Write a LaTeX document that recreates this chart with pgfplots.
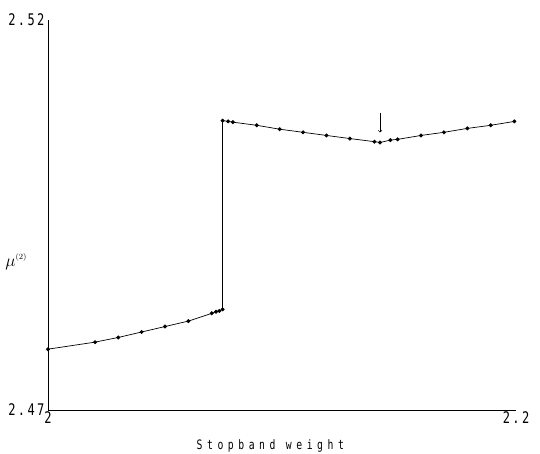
\documentclass[border=0pt]{standalone}
\usepackage{fontspec}
\usepackage{pgfplots}
\pgfplotsset{compat=1.18}
\newfontfamily\plotfont[FakeStretch=0.75,LetterSpace=15]{DejaVu Sans Mono}
\newfontfamily\labfont[FakeStretch=0.75,LetterSpace=35]{DejaVu Sans Mono}
\begin{document}
\begin{tikzpicture}[x=1pt,y=1pt]
\useasboundingbox (0,0) rectangle (540,453);
\begin{axis}[
  at={(48pt,43pt)}, anchor=south west,
  scale only axis, width=468pt, height=390pt,
  xmin=2, xmax=2.2, ymin=2.47, ymax=2.52,
  axis x line=bottom, axis y line=left,
  axis line style={-, line width=0.6pt},
  xtick={2,2.2}, xticklabels={2,2.2},
  ytick={2.47,2.52}, yticklabels={2.47,2.52},
  major tick length=0pt,
  tick label style={font=\plotfont\fontsize{16}{16}\selectfont},
  xticklabel style={yshift=2pt},
  xlabel={Stopband weight},
  xlabel style={font=\labfont\fontsize{13}{13}\selectfont, at={(axis description cs:0.475,0)}, anchor=north, yshift=-26pt},
  clip=false,
]
\addplot[black, line width=0.7pt, mark=*, mark size=1.6pt] coordinates {
(2.0000,2.4778) (2.0201,2.4787) (2.0300,2.4793) (2.0400,2.4800) (2.0500,2.4807)
(2.0600,2.4814) (2.0700,2.4824) (2.0718,2.4826) (2.0732,2.4827) (2.0746,2.4829)
(2.0746,2.5071) (2.0770,2.5070) (2.0790,2.5069) (2.0892,2.5065) (2.0990,2.5060)
(2.1090,2.5056) (2.1190,2.5052) (2.1290,2.5048) (2.1395,2.5044) (2.1419,2.5043)
(2.1463,2.5046) (2.1494,2.5047) (2.1594,2.5052) (2.1692,2.5056) (2.1792,2.5061)
(2.1892,2.5065) (2.1993,2.5070)
};
\draw[->, line width=0.6pt] (axis cs:2.1419,2.5081) -- (axis cs:2.1419,2.5056);
\node[font=\fontsize{17}{17}\selectfont] at (rel axis cs:-0.068,0.38) {$\mu^{\scriptscriptstyle(2)}$};
\end{axis}
\end{tikzpicture}
\end{document}
